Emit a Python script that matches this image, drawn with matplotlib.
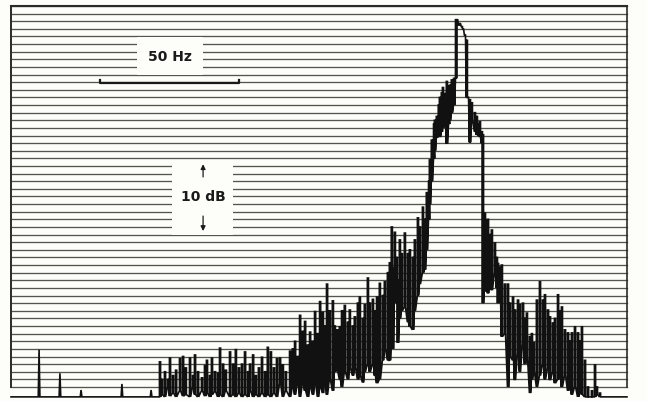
import matplotlib.pyplot as plt
from matplotlib.patches import Rectangle

# frequency offset (Hz) and level (dB above the bottom line)
base_level = -1.3
spike_freq = [10.1, 17.6, 25.2, 39.9, 50.4]
spike_level = [4.9, 1.8, -0.4, 0.4, -0.4]

# noisy trace: for each column the upper and lower excursion
col_freq = [
    53.6, 54.3, 55.4, 56.5, 57.2, 58.3, 59.4, 60.8, 61.9, 62.9,
    64.4, 65.5, 66.2, 67.3, 68.7, 69.8, 70.5, 71.6, 72.3, 73.4,
    74.5, 75.2, 76.3, 77.3, 78.8, 79.9, 80.9, 82.0, 83.1, 84.2,
    85.3, 86.0, 87.1, 88.1, 89.2, 90.3, 91.4, 92.4, 93.5, 94.6,
    95.7, 96.8, 97.8, 98.9, 100.4, 101.4, 102.2, 103.2, 104.0, 105.0,
    105.8, 106.8, 107.6, 108.6, 109.4, 110.4, 111.2, 112.2, 112.9, 113.7,
    114.7, 115.8, 116.5, 117.3, 118.3, 119.1, 120.1, 121.2, 121.9, 123.0,
    123.7, 124.8, 125.5, 126.6, 127.3, 128.4, 129.1, 130.2, 130.9, 131.7,
    132.7, 133.8, 134.5, 135.6, 136.3, 137.0, 137.4, 138.1, 138.8, 139.2,
    139.9, 140.6, 141.7, 142.8, 143.5, 144.6, 145.3, 146.4, 147.1, 148.2,
    148.9, 149.6, 150.4, 150.7, 151.4, 152.2, 152.5, 153.2, 153.9, 154.3,
    155.0, 155.4, 156.1, 156.8, 157.6, 157.9, 158.6, 159.4, 160.1, 160.5,
    161.2, 161.5, 162.2, 162.6, 163.3, 164.0, 164.4, 165.1, 165.8, 166.9,
    167.6, 168.3, 168.7, 169.4, 169.8, 170.5, 171.2, 171.6, 172.3, 173.0,
    174.1, 174.8, 175.2, 175.9, 176.6, 177.7, 178.8, 179.5, 180.6, 181.3,
    182.4, 183.1, 184.2, 184.9, 185.6, 186.7, 187.4, 188.1, 189.2, 190.3,
    191.4, 192.1, 193.2, 193.9, 195.0, 195.7, 196.8, 197.5, 198.2, 199.3,
    200.4, 201.1, 201.8, 202.9, 204.0, 204.7, 205.4, 206.5, 207.6, 209.0,
    210.1, 210.8, 211.9,
]
col_top = [
    3.3, 1.0, 2.0, 1.0, 3.8, 1.5, 2.2, 3.7, 4.0, 2.5,
    3.8, 1.5, 4.2, 2.0, 1.2, 2.8, 3.5, 1.5, 3.8, 2.0,
    1.8, 5.1, 3.0, 2.2, 4.6, 3.0, 4.9, 2.5, 3.0, 4.6,
    2.0, 3.0, 4.2, 1.5, 2.5, 3.9, 2.0, 5.2, 4.6, 2.5,
    3.7, 3.8, 2.9, 2.0, 4.7, 5.0, 6.0, 4.0, 9.4, 7.3,
    8.6, 5.5, 7.2, 6.0, 9.9, 7.0, 11.2, 9.8, 8.0, 13.5,
    10.0, 11.3, 8.0, 7.5, 7.9, 10.0, 10.7, 8.5, 10.1, 8.0,
    9.2, 11.0, 11.8, 9.0, 10.8, 14.3, 11.0, 11.5, 10.0, 11.8,
    13.6, 12.0, 13.8, 15.0, 16.3, 21.0, 15.6, 20.3, 17.0, 14.0,
    19.3, 17.5, 20.2, 17.5, 18.0, 17.0, 19.3, 22.2, 21.0, 23.6,
    22.0, 25.5, 27.0, 29.8, 32.4, 34.5, 35.0, 35.5, 37.0, 38.0,
    38.6, 39.3, 38.5, 40.1, 39.5, 39.6, 40.3, 40.5, 48.2, 48.2,
    47.5, 47.7, 47.3, 47.0, 46.2, 45.5, 38.0, 37.7, 37.3, 36.0,
    35.5, 34.5, 34.8, 33.5, 33.1, 22.8, 21.9, 22.0, 20.0, 20.6,
    18.9, 17.0, 16.2, 15.7, 16.0, 13.5, 13.5, 11.0, 11.8, 10.1,
    11.4, 10.8, 11.0, 9.0, 9.7, 6.6, 7.0, 5.8, 11.4, 13.8,
    11.4, 12.1, 10.1, 9.2, 8.4, 9.0, 12.1, 10.0, 10.5, 7.5,
    7.1, 6.0, 7.1, 7.9, 7.1, 6.0, 7.9, 3.5, 0.0, -0.5,
    2.9, 0.0, -0.8,
]
col_bottom = [
    -1.3, -1.0, -1.3, 0.0, -1.2, -0.8, -1.3, -0.5, -1.2, -1.0,
    -1.3, 0.0, -1.0, -1.3, -0.5, -1.2, -0.8, -1.3, -1.0, -0.6,
    -1.3, -1.0, -1.3, -0.5, -1.3, -1.0, -1.3, -0.8, -1.3, -1.0,
    -1.3, -0.5, -1.3, -1.0, -1.3, -0.8, -1.3, -1.0, -1.3, -0.8,
    -1.3, 0.5, -1.3, -0.5, -1.3, 0.0, -1.0, 0.5, -1.3, 0.5,
    -0.5, -1.3, 0.0, -1.0, 0.5, -1.3, 0.0, -0.8, 1.0, -1.0,
    1.0, -0.5, 2.0, 2.2, 1.0, 0.0, 2.0, 1.0, 2.5, 1.5,
    2.6, 1.0, 1.5, 0.6, 2.0, 3.0, 2.0, 3.0, 1.5, 0.5,
    1.0, 3.5, 5.0, 3.5, 3.5, 6.0, 5.0, 13.1, 11.0, 5.8,
    9.0, 10.0, 10.5, 8.5, 7.9, 7.5, 10.0, 12.0, 13.5, 15.0,
    15.4, 18.0, 22.0, 24.0, 27.0, 30.0, 31.0, 32.7, 33.0, 32.8,
    33.5, 34.0, 35.0, 31.9, 34.5, 35.0, 36.0, 37.0, 40.5, 48.2,
    47.5, 47.7, 47.3, 47.0, 46.2, 38.0, 38.0, 32.1, 35.0, 33.5,
    33.1, 33.0, 32.8, 32.0, 11.0, 14.0, 12.5, 12.3, 14.0, 12.7,
    15.0, 13.0, 11.0, 12.0, 6.6, 7.0, 0.0, 4.0, 3.5, 0.9,
    4.5, 2.0, 5.8, 3.0, 4.0, -0.8, 1.0, 2.0, 0.0, 1.5,
    3.0, 1.0, 2.5, 0.9, 2.0, 0.5, 1.0, 2.0, 0.0, 1.5,
    -0.5, 1.0, -1.0, 0.0, -1.3, 0.5, -1.0, -1.3, -1.3, -1.3,
    -1.3, -1.0, -1.3,
]
span_hz = 221.6
n_lines = 50

# build the trace path: a narrow vertical stroke per column, joined at the bottoms
xs, ys = [0.0], [base_level]
for f, lv in zip(spike_freq, spike_level):
    xs += [f - 0.3, f, f + 0.3]
    ys += [base_level, lv, base_level]
for f, t, b in zip(col_freq, col_top, col_bottom):
    xs += [f - 0.2, f - 0.2, f + 0.2, f + 0.2]
    ys += [b, t, t, b]
xs += [col_freq[-1] + 0.5, span_hz]
ys += [base_level, base_level]

bg = '#fdfdf9'
fig = plt.figure(figsize=(6.47, 4.01), dpi=100)
fig.patch.set_facecolor(bg)
ax = fig.add_axes([0, 0, 1, 1])
ax.set_facecolor(bg)
ax.set_xlim(-3.96, 228.8)
ax.set_ylim(-1.84, 50.79)
ax.axis('off')

# graticule
for k in range(n_lines + 1):
    ax.plot([0, span_hz], [k, k], color='#55554f', lw=0.95, zorder=1)
ax.plot([0, 0], [0, n_lines], color='#2a2a26', lw=1.4, zorder=1)
ax.plot([span_hz, span_hz], [0, n_lines], color='#2a2a26', lw=1.2, zorder=1)
ax.plot([0, span_hz], [n_lines, n_lines], color='#2a2a26', lw=1.5, zorder=1)

# label boxes
ax.add_patch(Rectangle((45.3, 40.9), 23.8, 5.0, facecolor=bg,
                       edgecolor='none', zorder=2))
ax.add_patch(Rectangle((57.9, 19.9), 22.0, 9.9, facecolor=bg,
                       edgecolor='none', zorder=2))
lab_font = dict(family=['Liberation Sans Narrow', 'DejaVu Sans'],
                fontsize=10, fontweight='bold', color='#1a1a1a', zorder=3)
ax.text(57.2, 43.3, '50 Hz', ha='center', va='center', **lab_font)
ax.text(69.1, 24.9, '10 dB', ha='center', va='center', **lab_font)

# 50 Hz scale bar
ax.plot([32.0, 32.0, 82.0, 82.0], [40.3, 39.9, 39.9, 40.3],
        color='#1a1a1a', lw=1.6, zorder=3)

# 10 dB arrows
ax.annotate('', xy=(69.1, 29.6), xytext=(69.1, 27.2),
            arrowprops=dict(arrowstyle='-|>', color='#1a1a1a', lw=0.9,
                            mutation_scale=7), zorder=3)
ax.annotate('', xy=(69.1, 20.1), xytext=(69.1, 22.8),
            arrowprops=dict(arrowstyle='-|>', color='#1a1a1a', lw=0.9,
                            mutation_scale=7), zorder=3)

# spectrum trace
ax.plot(xs, ys, color='#111111', lw=1.2, solid_joinstyle='miter', zorder=4)

fig.savefig('out.png', dpi=100, facecolor=fig.get_facecolor())
